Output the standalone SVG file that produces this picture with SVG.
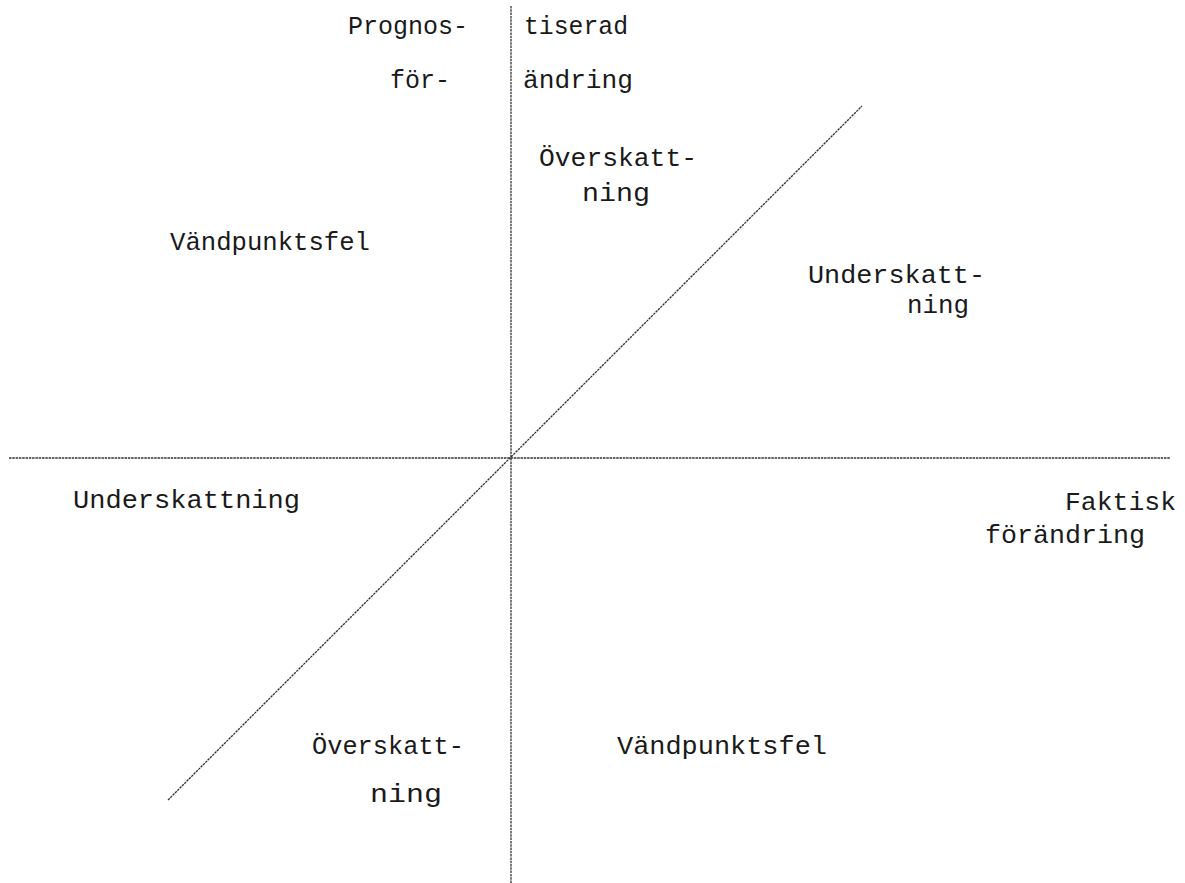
<svg xmlns="http://www.w3.org/2000/svg" width="1185" height="883" viewBox="0 0 1185 883">
  <style>
    .lbl { font-family: "Liberation Mono", "DejaVu Sans Mono", monospace; font-size: 25px; fill: #1a1a1a; }
    .axis { stroke: #333333; stroke-width: 1.3; fill: none; stroke-dasharray: 2.5 0.8; }
  </style>
  <rect width="1185" height="883" fill="#ffffff"/>

  <!-- axes and the line of perfect forecasts -->
  <g id="connectors">
    <line class="axis" x1="511" y1="6" x2="511" y2="883"/>
    <line class="axis" x1="9" y1="458" x2="1170" y2="458"/>
    <line class="axis" x1="168" y1="800" x2="862" y2="106"/>
  </g>

  <!-- vertical axis title -->
  <g id="axis-y-title">
    <text class="lbl" x="348" y="34" textLength="120" lengthAdjust="spacingAndGlyphs">Prognos-</text>
    <text class="lbl" x="524" y="34" textLength="104" lengthAdjust="spacingAndGlyphs">tiserad</text>
    <text class="lbl" x="390" y="88" textLength="60" lengthAdjust="spacingAndGlyphs">för-</text>
    <text class="lbl" x="523" y="88" textLength="110" lengthAdjust="spacingAndGlyphs">ändring</text>
  </g>

  <!-- horizontal axis title -->
  <g id="axis-x-title">
    <text class="lbl" x="1065" y="510" textLength="111" lengthAdjust="spacingAndGlyphs">Faktisk</text>
    <text class="lbl" x="985" y="543" textLength="160" lengthAdjust="spacingAndGlyphs">förändring</text>
  </g>

  <!-- upper-left quadrant -->
  <g id="q2-vandpunktsfel">
    <text class="lbl" x="170" y="250" textLength="200" lengthAdjust="spacingAndGlyphs">Vändpunktsfel</text>
  </g>

  <!-- upper-right quadrant, above the diagonal -->
  <g id="q1-overskattning">
    <text class="lbl" x="539" y="166" textLength="158" lengthAdjust="spacingAndGlyphs">Överskatt-</text>
    <text class="lbl" x="582" y="201" textLength="68" lengthAdjust="spacingAndGlyphs">ning</text>
  </g>

  <!-- upper-right quadrant, below the diagonal -->
  <g id="q1-underskattning">
    <text class="lbl" x="808" y="283" textLength="177" lengthAdjust="spacingAndGlyphs">Underskatt-</text>
    <text class="lbl" x="907" y="313" textLength="62" lengthAdjust="spacingAndGlyphs">ning</text>
  </g>

  <!-- lower-left quadrant, above the diagonal -->
  <g id="q3-underskattning">
    <text class="lbl" x="73" y="508" textLength="227" lengthAdjust="spacingAndGlyphs">Underskattning</text>
  </g>

  <!-- lower-left quadrant, below the diagonal -->
  <g id="q3-overskattning">
    <text class="lbl" x="312" y="754" textLength="152" lengthAdjust="spacingAndGlyphs">Överskatt-</text>
    <text class="lbl" x="370" y="802" textLength="72" lengthAdjust="spacingAndGlyphs">ning</text>
  </g>

  <!-- lower-right quadrant -->
  <g id="q4-vandpunktsfel">
    <text class="lbl" x="617" y="754" textLength="210" lengthAdjust="spacingAndGlyphs">Vändpunktsfel</text>
  </g>
</svg>
